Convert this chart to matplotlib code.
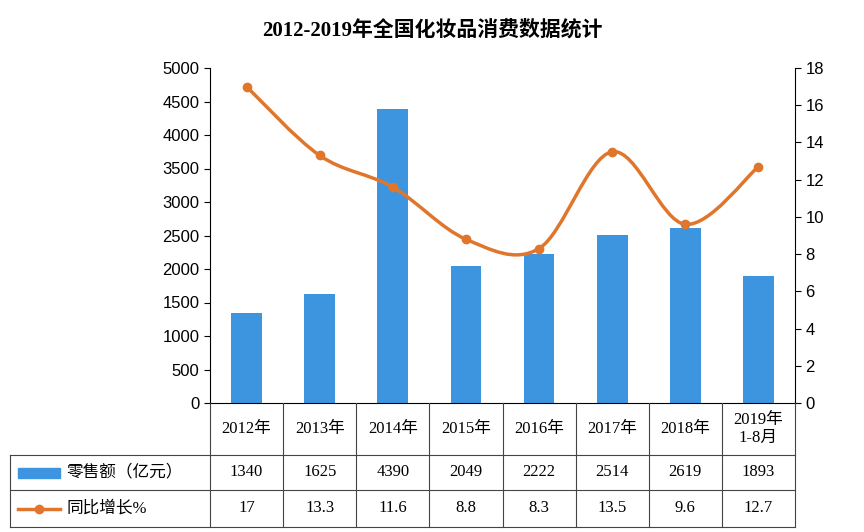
import numpy as np
import matplotlib.pyplot as plt
from matplotlib.path import Path
from matplotlib.patches import PathPatch
from matplotlib.lines import Line2D

plt.rcParams['font.family'] = ['Liberation Sans', 'Noto Sans CJK SC']
serif = ['Liberation Serif', 'Noto Sans CJK SC']

years = ['2012年', '2013年', '2014年', '2015年', '2016年', '2017年', '2018年', '2019年\n1-8月']
sales = [1340, 1625, 4390, 2049, 2222, 2514, 2619, 1893]
growth = [17, 13.3, 11.6, 8.8, 8.3, 13.5, 9.6, 12.7]
sales_txt = ['1340', '1625', '4390', '2049', '2222', '2514', '2619', '1893']
growth_txt = ['17', '13.3', '11.6', '8.8', '8.3', '13.5', '9.6', '12.7']

W, H = 864, 532
fig = plt.figure(figsize=(W / 100, H / 100), dpi=100)
L, R, T, B = 210, 795, 68, 403
ax = fig.add_axes([L / W, 1 - B / H, (R - L) / W, (B - T) / H])
x = np.arange(len(years))
bar_c = '#3d95e0'
line_c = '#e0762c'
ax.bar(x, sales, width=0.42, color=bar_c, zorder=2)
ax.set_xlim(-0.5, len(years) - 0.5)
ax.set_ylim(0, 5000)
ax.set_yticks(range(0, 5001, 500))
ax.set_xticks([])
for s in ['top', 'right']:
    ax.spines[s].set_visible(False)
ax.tick_params(axis='y', labelsize=12, length=4)

ax2 = ax.twinx()
ax2.set_ylim(0, 18)
ax2.set_yticks(range(0, 19, 2))
ax2.tick_params(axis='y', labelsize=12, length=4)
for s in ['top', 'left', 'bottom']:
    ax2.spines[s].set_visible(False)

# smooth curve (Catmull-Rom -> bezier)
pts = np.column_stack([x, growth]).astype(float)
verts = [pts[0]]
codes = [Path.MOVETO]
for i in range(len(pts) - 1):
    p0 = pts[i - 1] if i > 0 else pts[i]
    p1, p2 = pts[i], pts[i + 1]
    p3 = pts[i + 2] if i + 2 < len(pts) else pts[i + 1]
    verts += [p1 + (p2 - p0) / 6, p2 - (p3 - p1) / 6, p2]
    codes += [Path.CURVE4] * 3
ax2.add_patch(PathPatch(Path(verts, codes), fill=False, ec=line_c, lw=2.5, zorder=3))
ax2.plot(x, growth, 'o', color=line_c, ms=6, zorder=4)

fig.text(0.5, 1 - 30 / H, '2012-2019年全国化妆品消费数据统计', ha='center', va='center',
         fontsize=15, fontweight='bold', family=serif)

# data table
def fx(px): return px / W
def fy(py): return 1 - py / H
rows = [403, 455, 490, 527]
step = (R - L) / len(years)
lc = '#444444'
for yy in rows[1:]:
    fig.add_artist(Line2D([fx(10), fx(R)], [fy(yy), fy(yy)], transform=fig.transFigure, color=lc, lw=0.8))
for i in range(len(years) + 1):
    xx = L + i * step
    fig.add_artist(Line2D([fx(xx), fx(xx)], [fy(rows[0]), fy(rows[-1])], transform=fig.transFigure, color=lc, lw=0.8))
fig.add_artist(Line2D([fx(10), fx(10)], [fy(rows[1]), fy(rows[-1])], transform=fig.transFigure, color=lc, lw=0.8))
for i in range(len(years)):
    cx = fx(L + (i + 0.5) * step)
    fig.text(cx, fy((rows[0] + rows[1]) / 2), years[i], ha='center', va='center', fontsize=12,
             linespacing=1.1, family=serif)
    fig.text(cx, fy((rows[1] + rows[2]) / 2), sales_txt[i], ha='center', va='center', fontsize=12, family=serif)
    fig.text(cx, fy((rows[2] + rows[3]) / 2), growth_txt[i], ha='center', va='center', fontsize=12, family=serif)
# legend keys
yk = fy((rows[1] + rows[2]) / 2)
fig.patches.append(plt.Rectangle((fx(18), yk - 5 / H), 42 / W, 10 / H, transform=fig.transFigure, color=bar_c))
fig.text(fx(66), yk, '零售额（亿元）', va='center', fontsize=12, family=serif)
yk = fy((rows[2] + rows[3]) / 2)
fig.add_artist(Line2D([fx(18), fx(39), fx(60)], [yk, yk, yk], transform=fig.transFigure, color=line_c, lw=2.5,
                      marker='o', markevery=[1], ms=6))
fig.text(fx(66), yk, '同比增长%', va='center', fontsize=12, family=serif)

fig.savefig('out.png', dpi=100)
